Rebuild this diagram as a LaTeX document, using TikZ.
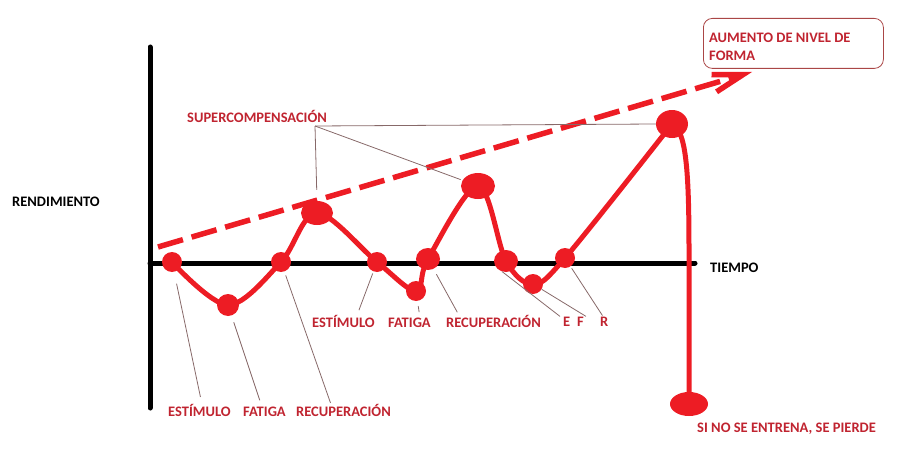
\documentclass[tikz,border=0pt]{standalone}
\usepackage{fontspec}
\setmainfont{Carlito}
\usetikzlibrary{shapes.geometric,arrows.meta}
\definecolor{paintred}{RGB}{237,28,36}
\definecolor{labred}{RGB}{192,36,48}
\definecolor{leadgray}{RGB}{135,105,105}
\definecolor{boxred}{RGB}{170,70,70}
\begin{document}
\begin{tikzpicture}[x=10pt,y=-10pt,
  every node/.style={font=\fontsize{14.5}{18}\selectfont\bfseries,inner sep=0pt},
  lab/.style={text=labred,anchor=base west},
  bead/.style 2 args={ellipse,fill=paintred,minimum width=#1pt,minimum height=#2pt},
  curve/.style={draw=paintred,line width=5pt,line cap=round,line join=round},
  lead/.style={draw=leadgray,line width=0.8pt},
  axisline/.style={line width=5pt,line cap=round}]
\useasboundingbox (0,0) rectangle (90,46);
% ejes
\coordinate (ytop) at (15,4.7); \coordinate (ybot) at (15,40.8);
\coordinate (o) at (15,26.3); \coordinate (xend) at (69.5,26.3);
\draw[axisline] (ytop) -- (ybot);
\draw[axisline] (o) -- (xend);
\node[anchor=base west] (rend) at (1.2,20.67) {RENDIMIENTO};
\node[anchor=base west] (tiempo) at (71.0,27.27) {TIEMPO};
% tendencia
\coordinate (ds) at (15.8,24.7); \coordinate (de) at (75.2,7.2);
\draw[paintred,line width=5.5pt,dash pattern=on 26pt off 9pt,-{Straight Barb[length=30pt,width=18pt]}] (ds) -- (de);
\node[draw=boxred,line width=0.8pt,rounded corners=9pt,minimum width=180pt,minimum height=50pt,anchor=north west] (caja) at (70.3,1.8) {};
\node[lab,anchor=north west,align=left] (aum) at (70.9,3.3) {AUMENTO DE NIVEL DE\\FORMA};
% puntos de la curva
\node[bead={20}{20}] (p1) at (17.2,26.2) {};
\node[bead={22}{22}] (p2) at (22.8,30.5) {};
\node[bead={20}{20}] (p3) at (28.1,26.2) {};
\node[bead={32}{24}] (p4) at (31.7,21.3) {};
\node[bead={20}{20}] (p5) at (37.7,26.2) {};
\node[bead={20}{20}] (p6) at (41.6,29.1) {};
\node[bead={24}{22}] (p7) at (42.8,25.9) {};
\node[bead={34}{26}] (p8) at (47.8,18.6) {};
\node[bead={24}{22}] (p9) at (50.6,26.1) {};
\node[bead={20}{20}] (p10) at (53.3,28.4) {};
\node[bead={20}{20}] (p11) at (56.5,25.8) {};
\node[bead={32}{28}] (p12) at (67.2,12.4) {};
\node[bead={38}{24}] (p13) at (68.9,40.4) {};
\draw[curve] plot[smooth,tension=0.55] coordinates {(p1.center) (p2.center) (p3.center) (p4.center) (p5.center) (p6.center) (p7.center) (p8.center) (p9.center) (p10.center) (p11.center) (p12.center)};
\draw[curve] (p12.center) .. controls (68.6,13) and (68.9,17) .. (68.9,25) -- (p13.center);
% rotulos
\node[lab] (sup) at (18.7,12.27) {SUPERCOMPENSACIÓN};
\coordinate (sc) at (31.5,12.6);
\draw[lead] (sc) -- (p12.west);
\draw[lead,shorten >=2pt] (sc) -- (p8);
\draw[lead,shorten >=11pt] (sc) -- (p4.north);
\node[lab] (es1) at (16.8,41.67) {ESTÍMULO};
\node[lab] (fa1) at (24.3,41.67) {FATIGA};
\node[lab] (re1) at (29.6,41.67) {RECUPERACIÓN};
\node[lab] (es2) at (31.2,32.77) {ESTÍMULO};
\node[lab] (fa2) at (38.8,32.77) {FATIGA};
\node[lab] (re2) at (44.6,32.77) {RECUPERACIÓN};
\node[lab] (e) at (56.3,32.6) {E};
\node[lab] (f) at (57.7,32.6) {F};
\node[lab] (r) at (60.0,32.6) {R};
\node[lab] (pierde) at (69.7,43.27) {SI NO SE ENTRENA, SE PIERDE};
\draw[lead,shorten <=12pt,shorten >=7.5pt] (p1) -- ([xshift=34pt]es1.north west);
\draw[lead,shorten <=7pt,shorten >=7pt] (p2) -- ([xshift=19pt]fa1.north west);
\draw[lead,shorten <=4pt,shorten >=1.5pt] (p3) -- ([xshift=35pt]re1.north west);
\draw[lead,shorten <=2pt,shorten >=5.5pt] (p5) -- ([xshift=45pt]es2.north west);
\draw[lead,shorten <=5pt,shorten >=6pt] (p6) -- ([xshift=32pt]fa2.north west);
\draw[lead,shorten <=6pt,shorten >=3.5pt] (p7) -- ([xshift=13pt]re2.north west);
\draw[lead] (p9.250) -- ([xshift=-3pt]e.north west);
\draw[lead] (p10) -- ([xshift=9pt]f.north west);
\draw[lead,shorten <=2pt,shorten >=1pt] (p11) -- ([xshift=3pt]r.north west);
\end{tikzpicture}
\end{document}
